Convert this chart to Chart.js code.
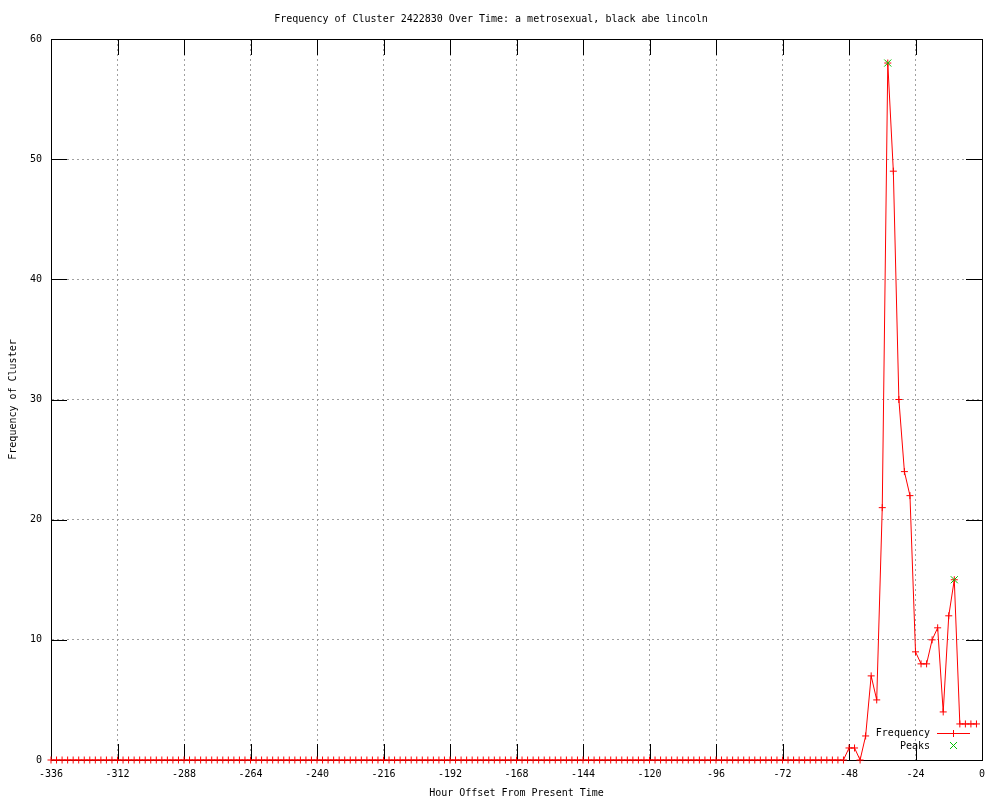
<!DOCTYPE html>
<html>
<head>
<meta charset="utf-8">
<script src="https://cdn.jsdelivr.net/npm/chart.js@4/dist/chart.umd.min.js"></script>
<style>
  body { margin: 0; background: #fff; }
  canvas { display: block; }
</style>
</head>
<body>
<canvas id="chart" width="1000" height="800"></canvas>
<script>
const titleText = 'Frequency of Cluster 2422830 Over Time: a metrosexual, black abe lincoln';
const xTitle = 'Hour Offset From Present Time';
const yTitle = 'Frequency of Cluster';

// hour offsets, every 2 hours from -336 to -2
const hours = [];
for (let h = -336; h <= -2; h += 2) hours.push(h);

const frequency = [
    0, 0, 0, 0, 0, 0, 0, 0, 0, 0, 0, 0,
    0, 0, 0, 0, 0, 0, 0, 0, 0, 0, 0, 0,
    0, 0, 0, 0, 0, 0, 0, 0, 0, 0, 0, 0,
    0, 0, 0, 0, 0, 0, 0, 0, 0, 0, 0, 0,
    0, 0, 0, 0, 0, 0, 0, 0, 0, 0, 0, 0,
    0, 0, 0, 0, 0, 0, 0, 0, 0, 0, 0, 0,
    0, 0, 0, 0, 0, 0, 0, 0, 0, 0, 0, 0,
    0, 0, 0, 0, 0, 0, 0, 0, 0, 0, 0, 0,
    0, 0, 0, 0, 0, 0, 0, 0, 0, 0, 0, 0,
    0, 0, 0, 0, 0, 0, 0, 0, 0, 0, 0, 0,
    0, 0, 0, 0, 0, 0, 0, 0, 0, 0, 0, 0,
    0, 0, 0, 0, 0, 0, 0, 0, 0, 0, 0, 0,
    1, 1, 0, 2, 7, 5, 21, 58, 49, 30, 24, 22,
    9, 8, 8, 10, 11, 4, 12, 15, 3, 3, 3, 3
];

const peakHours = [-34, -10];
const peakValues = [58, 15];

const xTicks = [-336, -312, -288, -264, -240, -216, -192, -168, -144, -120, -96, -72, -48, -24, 0];
const yTicks = [0, 10, 20, 30, 40, 50, 60];

const RED = '#ff0000';
const GREEN = '#00c000';
const FONT = { family: '"DejaVu Sans Mono", monospace', size: 10 };

const frameTicks = {
    id: 'frameTicks',
    beforeDatasetsDraw(chart) {
        const { ctx, chartArea: a, scales: { x, y } } = chart;
        const len = 16;
        ctx.save();
        ctx.strokeStyle = '#000';
        ctx.lineWidth = 1;
        ctx.beginPath();
        xTicks.forEach(v => {
            const px = Math.round(x.getPixelForValue(v)) + 0.5;
            ctx.moveTo(px, a.bottom); ctx.lineTo(px, a.bottom - len);
            ctx.moveTo(px, a.top); ctx.lineTo(px, a.top + len);
        });
        yTicks.forEach(v => {
            const py = Math.round(y.getPixelForValue(v)) + 0.5;
            ctx.moveTo(a.left, py); ctx.lineTo(a.left + len, py);
            ctx.moveTo(a.right, py); ctx.lineTo(a.right - len, py);
        });
        ctx.stroke();
        ctx.strokeRect(Math.round(a.left) + 0.5, Math.round(a.top) + 0.5,
            Math.round(a.right - a.left), Math.round(a.bottom - a.top));
        ctx.restore();
    },
    afterDraw(chart) {
        // key in the lower right corner
        const { ctx } = chart;
        ctx.save();
        ctx.font = '10px "DejaVu Sans Mono", monospace';
        ctx.fillStyle = '#000';
        ctx.textAlign = 'right';
        ctx.textBaseline = 'middle';
        ctx.fillText('Frequency', 930, 733);
        ctx.fillText('Peaks', 930, 746);
        ctx.fillStyle = RED;
        ctx.fillRect(937, 733, 33, 1);
        ctx.fillRect(953, 730, 1, 7);
        ctx.lineWidth = 1;
        ctx.strokeStyle = GREEN;
        ctx.beginPath();
        ctx.moveTo(950, 742); ctx.lineTo(957, 749);
        ctx.moveTo(957, 742); ctx.lineTo(950, 749);
        ctx.stroke();
        ctx.restore();
    }
};

new Chart(document.getElementById('chart'), {
    type: 'line',
    data: {
        datasets: [{
            label: 'Frequency',
            data: hours.map((h, i) => ({ x: h, y: frequency[i] })),
            borderColor: RED,
            backgroundColor: RED,
            borderWidth: 1,
            pointStyle: 'cross',
            pointRadius: 3.5,
            pointBorderWidth: 1,
            tension: 0,
            clip: false,
            order: 1
        }, {
            label: 'Peaks',
            data: peakHours.map((h, i) => ({ x: h, y: peakValues[i] })),
            borderColor: GREEN,
            backgroundColor: GREEN,
            showLine: false,
            pointStyle: 'crossRot',
            pointRadius: 5,
            pointBorderWidth: 1,
            clip: false,
            order: 0
        }]
    },
    options: {
        responsive: false,
        animation: false,
        layout: { padding: { left: 0, right: 18, top: 0, bottom: 0 } },
        plugins: {
            legend: { display: false },
            tooltip: { enabled: false },
            title: {
                display: true,
                text: titleText,
                color: '#000',
                font: { ...FONT, weight: 'normal' },
                padding: { top: 13, bottom: 14 }
            }
        },
        scales: {
            x: {
                type: 'linear',
                min: -336,
                max: 0,
                afterFit: (scale) => { scale.height = 40; },
                afterBuildTicks: (scale) => { scale.ticks = xTicks.map(v => ({ value: v })); },
                ticks: {
                    color: '#000',
                    font: FONT,
                    padding: 8,
                    maxRotation: 0,
                    autoSkip: false,
                    callback: (v) => String(v)
                },
                grid: { color: '#a0a0a0', drawTicks: false },
                border: { color: '#000', dash: [2, 3] },
                title: {
                    display: true,
                    text: xTitle,
                    color: '#000',
                    font: FONT,
                    padding: { top: 0, bottom: 1 }
                }
            },
            y: {
                min: 0,
                max: 60,
                afterFit: (scale) => { scale.width = 51; },
                afterBuildTicks: (scale) => { scale.ticks = yTicks.map(v => ({ value: v })); },
                ticks: {
                    color: '#000',
                    font: FONT,
                    padding: 9,
                    callback: (v) => String(v)
                },
                grid: { color: '#a0a0a0', drawTicks: false },
                border: { color: '#000', dash: [2, 3] },
                title: {
                    display: true,
                    text: yTitle,
                    color: '#000',
                    font: FONT,
                    padding: { top: 7, bottom: 0 }
                }
            }
        }
    },
    plugins: [frameTicks]
});
</script>
</body>
</html>
